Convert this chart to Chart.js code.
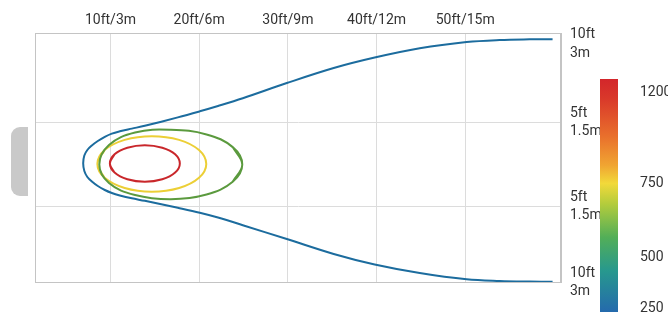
<!DOCTYPE html>
<html>
<head>
<meta charset="utf-8">
<script src="https://cdn.jsdelivr.net/npm/chart.js@4"></script>
<style>
  html, body { margin: 0; padding: 0; background: #fff; }
  #wrap { position: relative; width: 668px; height: 312px; overflow: hidden; }
  #tab { position: absolute; left: 11px; top: 127px; width: 17px; height: 69px; background: #c9c9c9; border-radius: 9px 0 0 9px; }
</style>
</head>
<body>
<div id="wrap">
  <canvas id="grafico" width="668" height="312"></canvas>
  <div id="tab"></div>
</div>
<script>
// distancia (ft) no eixo x, meia largura (ft) no eixo y
var xTicks = [10, 20, 30, 40, 50];
var xLabels = ['10ft/3m', '20ft/6m', '30ft/9m', '40ft/12m', '50ft/15m'];
var yTicks = [14.3, 5, -5, -14.0];
var yLabels = [['10ft', '3m'], ['5ft', '1.5m'], ['5ft', '1.5m'], ['10ft', '3m']];

var escalaLux = ['1200', '750', '500', '250'];

// contorno 250 lux
var azulX = [59.85, 57.26, 53.88, 50.16, 44.87, 39.79, 35.17, 29.88, 24.92, 22.12, 20.07, 17.59, 13.87, 12.41, 11.05, 10.15, 9.36, 8.57, 7.90, 7.39, 7.05, 6.92,
             7.05, 7.39, 7.90, 8.57, 9.36, 10.15, 11.05, 12.41, 13.87, 17.59, 20.07, 22.12, 24.92, 29.88, 35.17, 39.79, 44.87, 50.16, 53.88, 57.26, 59.85];
var azulY = [14.87, 14.85, 14.77, 14.53, 13.79, 12.69, 11.45, 9.67, 7.87, 6.95, 6.32, 5.60, 4.61, 4.27, 3.95, 3.68, 3.30, 2.80, 2.27, 1.74, 1.09, 0.16,
             -0.75, -1.46, -2.00, -2.53, -3.00, -3.36, -3.65, -3.99, -4.28, -5.11, -5.69, -6.26, -7.17, -8.81, -10.58, -11.83, -12.84, -13.58, -13.78, -13.85, -13.87];

// contorno 500 lux
var verdeX = [24.86, 23.78, 20.83, 16.80, 12.77, 9.83, 8.74, 9.83, 12.77, 16.80, 20.83, 23.78];
var verdeY = [0.02, 2.08, 3.58, 4.13, 3.81, 2.33, 0.02, -2.17, -3.59, -4.09, -3.54, -2.03];

// contorno 750 lux
var amareloX = [8.52, 9.34, 11.60, 14.66, 17.74, 19.98, 20.80, 19.98, 17.74, 14.66, 11.60, 9.34];
var amareloY = [0.08, 1.73, 2.94, 3.38, 2.94, 1.73, 0.08, -1.56, -2.77, -3.21, -2.77, -1.56];

// contorno 1200 lux
var vermelhoX = [9.93, 10.46, 11.90, 13.87, 15.84, 17.29, 17.82, 17.29, 15.84, 13.87, 11.90, 10.46];
var vermelhoY = [0.14, 1.23, 2.01, 2.31, 2.01, 1.23, 0.14, -0.94, -1.73, -2.03, -1.73, -0.94];

function pontos(xs, ys) {
    return xs.map(function (x, i) { return { x: x, y: ys[i] }; });
}

// fecha a curva repetindo vizinhos para a spline ficar suave na emenda
function fechado(xs, ys) {
    var p = pontos(xs, ys);
    var n = p.length;
    return [p[n - 1]].concat(p, [p[0], p[1]]);
}

var fonte = { family: 'Roboto', size: 14, lineHeight: 1.3 };
var corTexto = '#333333';

var moldura = {
    id: 'moldura',
    beforeDatasetsDraw: function (chart) {
        var a = chart.chartArea;
        var ctx = chart.ctx;
        ctx.save();
        ctx.strokeStyle = '#c4c4c4';
        ctx.lineWidth = 1;
        ctx.strokeRect(Math.round(a.left) - 0.5, Math.round(a.top) + 0.5, Math.round(a.right - a.left), Math.round(a.bottom - a.top));
        ctx.restore();
    }
};

var barraCores = {
    id: 'barraCores',
    afterDraw: function (chart) {
        var ctx = chart.ctx;
        var x = 600, topo = 79, w = 18, h = 240;
        ctx.save();
        var g = ctx.createLinearGradient(0, topo, 0, topo + h);
        g.addColorStop(0.00, '#d3262b');
        g.addColorStop(0.08, '#d9382a');
        g.addColorStop(0.24, '#e9702c');
        g.addColorStop(0.36, '#f0a532');
        g.addColorStop(0.435, '#f2d93a');
        g.addColorStop(0.52, '#b4cc3c');
        g.addColorStop(0.66, '#52ae58');
        g.addColorStop(0.80, '#27988e');
        g.addColorStop(1.00, '#2462b2');
        ctx.fillStyle = g;
        ctx.fillRect(x, topo, w, h);
        ctx.fillStyle = corTexto;
        ctx.font = '14px Roboto';
        ctx.textBaseline = 'middle';
        ctx.textAlign = 'left';
        var ys = [92, 183, 257, 308];
        escalaLux.forEach(function (t, i) {
            ctx.fillText(t, 640, ys[i]);
        });
        ctx.restore();
    }
};

var ctx = document.getElementById('grafico').getContext('2d');

var meuGrafico = new Chart(ctx, {
    type: 'scatter',
    data: {
        datasets: [
            { label: '250', data: pontos(azulX, azulY), borderColor: '#1c6c9e', tension: 0.35 },
            { label: '500', data: fechado(verdeX, verdeY), borderColor: '#5b9a3e' },
            { label: '750', data: fechado(amareloX, amareloY), borderColor: '#eccf36' },
            { label: '1200', data: fechado(vermelhoX, vermelhoY), borderColor: '#c9272b' }
        ]
    },
    options: {
        responsive: false,
        animation: false,
        layout: { padding: { left: 36, right: 0, top: 0, bottom: 30 } },
        plugins: {
            legend: { display: false },
            tooltip: { enabled: false }
        },
        elements: {
            point: { radius: 0 },
            line: { borderWidth: 2, tension: 0.4, fill: false }
        },
        datasets: { scatter: { showLine: true } },
        scales: {
            x: {
                type: 'linear',
                position: 'top',
                min: 1.6,
                max: 60.8,
                afterBuildTicks: function (s) {
                    s.ticks = xTicks.map(function (v) { return { value: v }; });
                },
                afterFit: function (s) { s.height = 33; },
                ticks: {
                    callback: function (v, i) { return xLabels[i]; },
                    font: fonte,
                    color: corTexto,
                    padding: 3,
                    autoSkip: false,
                    maxRotation: 0
                },
                grid: { color: '#dcdcdc', drawTicks: false },
                border: { color: '#c4c4c4' }
            },
            y: {
                type: 'linear',
                position: 'right',
                min: -13.9,
                max: 15.6,
                afterBuildTicks: function (s) {
                    s.ticks = yTicks.map(function (v) { return { value: v }; });
                },
                afterFit: function (s) { s.width = 107; },
                ticks: {
                    callback: function (v, i) { return yLabels[i]; },
                    font: fonte,
                    color: corTexto,
                    padding: 9,
                    autoSkip: false
                },
                grid: {
                    color: function (c) {
                        return c.tick && Math.abs(c.tick.value) === 5 ? '#dcdcdc' : 'rgba(0,0,0,0)';
                    },
                    drawTicks: false
                },
                border: { color: '#c4c4c4' }
            }
        }
    },
    plugins: [moldura, barraCores]
});
</script>
</body>
</html>
